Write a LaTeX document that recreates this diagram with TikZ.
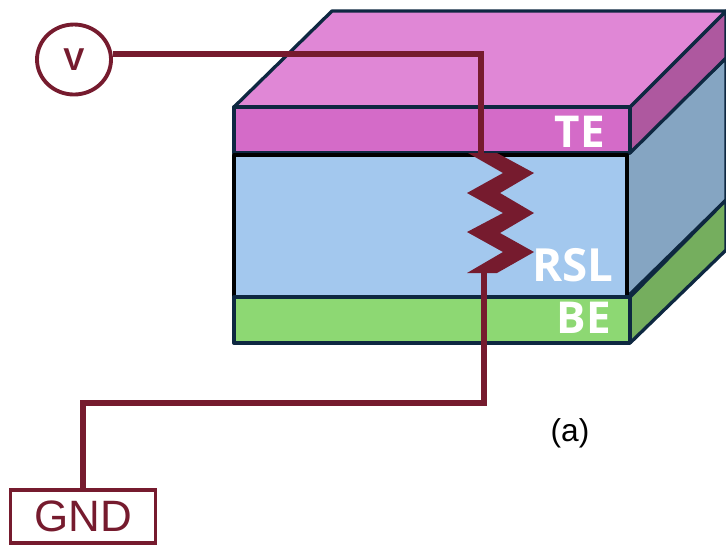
\documentclass[tikz,border=0pt]{standalone}
\usepackage{fontspec}
\setmainfont{Liberation Sans}
\newfontfamily\labelfont{Open Sans}
\usetikzlibrary{shapes.geometric}

\definecolor{edgecol}{HTML}{0E2841}
\definecolor{wirecol}{HTML}{761B2E}
\definecolor{tetop}{HTML}{E087D6}
\definecolor{tefront}{HTML}{D46BC8}
\definecolor{teside}{HTML}{AE589F}
\definecolor{rslfront}{HTML}{A3C8EE}
\definecolor{rslside}{HTML}{85A5C2}
\definecolor{befront}{HTML}{8DD873}
\definecolor{beside}{HTML}{75AE5E}

\tikzset{
  layer/.style={draw=edgecol, line width=1.9pt, line join=round},
  wire/.style={draw=wirecol, line width=3.1pt},
  layername/.style={text=white, font=\labelfont\bfseries\fontsize{25}{25}\selectfont, inner sep=0pt},
}

\begin{document}
\begin{tikzpicture}[x=0.2mm, y=-0.2mm]
  \useasboundingbox (0,0) rectangle (726,550);

  %-------------
  \draw[layer, fill=rslside] (627,153) -- (726,58) -- (726,200) -- (627,297) -- cycle;
  \draw[layer, fill=beside] (630,297) -- (726,200) -- (726,250) -- (630,343) -- cycle;
  \draw[layer, fill=teside] (630,107) -- (726,11) -- (726,58) -- (630,153) -- cycle;
  \draw[layer, fill=tetop] (234,107) -- (332,11) -- (726,11) -- (630,107) -- cycle;

  %-------------
  \draw[layer, fill=tefront] (234,107) rectangle (630,153);
  \draw[layer, draw=black, fill=rslfront] (234,155) rectangle (627,297);
  \draw[layer, fill=befront] (234,297) rectangle (630,343);

  \node[layername] (te) at (580,132) {TE};
  \node[layername, font=\labelfont\bfseries\fontsize{26}{26}\selectfont] (rsl) at (573,265) {RSL};
  \node[layername] (be) at (584,318) {BE};

  %-------------
  \node[ellipse, draw=wirecol, line width=2.2pt, minimum width=14.8mm, minimum height=14mm, inner sep=0pt,
        text=wirecol, font=\bfseries\fontsize{18}{18}\selectfont] (vsrc) at (74,59.5) {V};
  \node[draw=wirecol, line width=2.1pt, minimum width=29mm, minimum height=10.6mm, inner sep=0pt,
        text=wirecol, font=\fontsize{25}{25}\selectfont] (gnd) at (83,516.5) {GND};
  \node[font=\fontsize{18}{18}\selectfont, inner sep=0pt] (alabel) at (570,433) {(a)};

  \coordinate (rtop) at (481,153);
  \coordinate (rbot) at (484,273);
  \coordinate (bend) at (83,403);

  %-------------
  \draw[wire] (vsrc.8) -| (rtop);
  \draw[wire] (rbot) |- (bend) -- (gnd);

  \fill[wirecol] (468,153) -- (497,153) -- (534,173) -- (500,193) -- (534,213) -- (500,233)
    -- (534,252) -- (497,273) -- (467,273) -- (503,252) -- (467,232) -- (503,213)
    -- (467,193) -- (503,173) -- cycle;

\end{tikzpicture}
\end{document}
